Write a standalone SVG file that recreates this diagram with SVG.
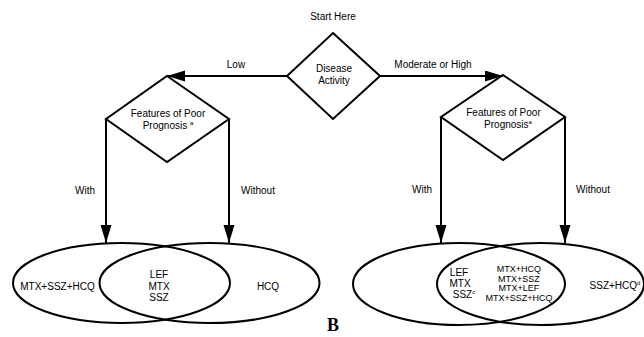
<svg xmlns="http://www.w3.org/2000/svg" width="644" height="337" viewBox="0 0 644 337">
<style>
.shape{fill:none;stroke:#000;stroke-width:2}
.line{fill:none;stroke:#000;stroke-width:2}
.t{font-family:"Liberation Sans",Arial,sans-serif;font-size:10px;fill:#000;text-anchor:middle}
.s{font-family:"Liberation Sans",Arial,sans-serif;font-size:9px;fill:#000;text-anchor:middle}
.sup{font-size:6px}
.b{font-family:"Liberation Serif","Times New Roman",serif;font-size:18px;font-weight:bold;fill:#000}
</style>
<defs>
<marker id="arr" markerUnits="userSpaceOnUse" markerWidth="20" markerHeight="12" refX="18" refY="5.5" orient="auto">
<path d="M0,0 L18,5.5 L0,11 Z" fill="#000"/>
</marker>
</defs>
<text class="t" x="333" y="19.5">Start Here</text>
<g id="activity">
<polygon class="shape" points="333,33 380,76 333,119 287,76"/>
<text class="t" x="334" y="72">Disease</text>
<text class="t" x="334" y="84">Activity</text>
</g>
<g id="prognosis-low">
<polygon class="shape" points="167,76 229,119 167,162 106,119"/>
<text class="t" x="168" y="117">Features of Poor</text>
<text class="t" x="168" y="129">Prognosis <tspan class="sup" dy="-4">a</tspan></text>
</g>
<g id="prognosis-high">
<polygon class="shape" points="503,75 565,117 503,160 441,117"/>
<text class="t" x="503.5" y="116">Features of Poor</text>
<text class="t" x="508" y="128">Prognosis<tspan class="sup" dy="-4">a</tspan></text>
</g>
<g id="venn-low">
<ellipse class="shape" cx="121.5" cy="283" rx="108.5" ry="40"/>
<ellipse class="shape" cx="209.5" cy="283" rx="110" ry="40"/>
<text class="t" x="57.5" y="290">MTX+SSZ+HCQ</text>
<text class="t" x="159" y="278">LEF</text>
<text class="t" x="159" y="289.5">MTX</text>
<text class="t" x="159" y="301">SSZ</text>
<text class="t" x="268" y="290">HCQ</text>
</g>
<g id="venn-high">
<ellipse class="shape" cx="459" cy="284" rx="106" ry="41"/>
<ellipse class="shape" cx="540.5" cy="284" rx="103.5" ry="41"/>
<text class="t" x="459" y="276">LEF</text>
<text class="t" x="460" y="287">MTX</text>
<text class="t" x="464" y="298">SSZ<tspan class="sup" dy="-4">c</tspan></text>
<text class="s" x="519" y="272">MTX+HCQ</text>
<text class="s" x="519" y="281.5">MTX+SSZ</text>
<text class="s" x="519" y="291">MTX+LEF</text>
<text class="s" x="519" y="300.5">MTX+SSZ+HCQ</text>
<text class="t" x="615" y="289">SSZ+HCQ<tspan class="sup" dy="-4">d</tspan></text>
</g>
<g id="connectors">
<line class="line" x1="287" y1="76" x2="167" y2="76" marker-end="url(#arr)"/>
<line class="line" x1="380" y1="76" x2="503" y2="76" marker-end="url(#arr)"/>
<line class="line" x1="106" y1="119" x2="106" y2="243" marker-end="url(#arr)"/>
<line class="line" x1="229" y1="119" x2="229" y2="243" marker-end="url(#arr)"/>
<line class="line" x1="441" y1="117" x2="441" y2="243" marker-end="url(#arr)"/>
<line class="line" x1="565" y1="117" x2="565" y2="243" marker-end="url(#arr)"/>
<text class="t" x="236" y="68">Low</text>
<text class="t" x="433" y="68">Moderate or High</text>
<text class="t" x="85" y="194">With</text>
<text class="t" x="258" y="194">Without</text>
<text class="t" x="422" y="193">With</text>
<text class="t" x="593" y="193">Without</text>
</g>
<text class="b" x="327" y="331">B</text>
</svg>
